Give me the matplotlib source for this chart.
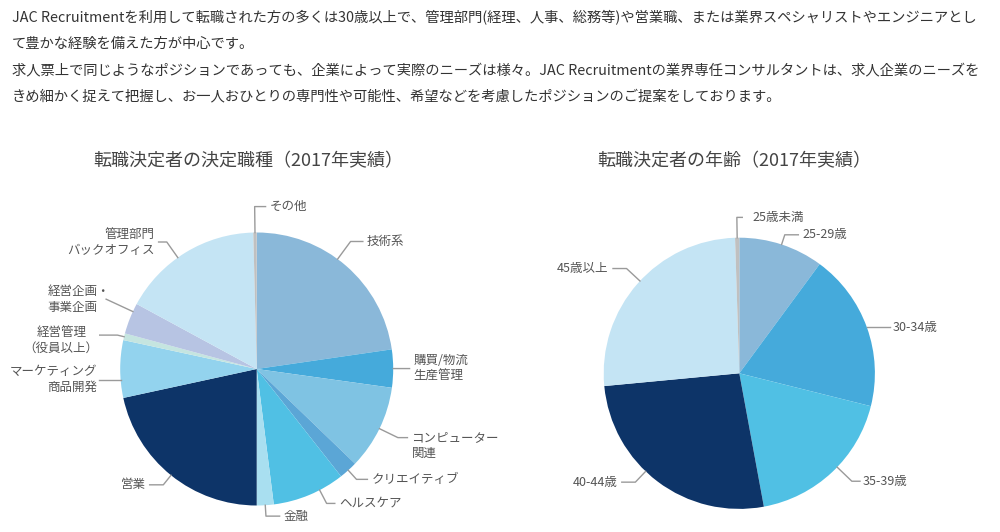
import numpy as np
import matplotlib
matplotlib.use("Agg")
import matplotlib.pyplot as plt

plt.rcParams['font.family'] = ['Noto Sans CJK JP', 'DejaVu Sans']

W, H = 1000, 532

# 決定職種 (2017)
job_labels = ["技術系", "購買/物流\n生産管理", "コンピューター\n関連", "クリエイティブ",
              "ヘルスケア", "金融", "営業", "マーケティング\n商品開発",
              "経営管理\n（役員以上）", "経営企画・\n事業企画", "管理部門\nバックオフィス", "その他"]
job_values = [22.7, 4.5, 10.0, 2.2, 8.6, 2.0, 21.6, 6.8, 0.8, 3.7, 16.7, 0.4]
job_colors = ["#8ab8d9", "#45aadb", "#7fc3e3", "#5ba6d6", "#50c0e4", "#a9dff0",
              "#0d3468", "#93d3ee", "#c5e5e0", "#b7c4e3", "#c4e4f4", "#c0c0c0"]

# 年齢 (2017)
age_labels = ["25-29歳", "30-34歳", "35-39歳", "40-44歳", "45歳以上", "25歳未満"]
age_values = [10.1, 18.8, 18.2, 26.4, 26.0, 0.5]
age_colors = ["#8ab8d9", "#45aadb", "#50c0e4", "#0d3468", "#c4e4f4", "#c0c0c0"]

# leader layout: angle shift (deg), elbow radius, horizontal length, side,
# text dy (px), gap (px), multialign
job_leaders = [(-4.5, 1.16, 0.09, 1, 0, 4, 'left'),
               (0, 1.02, 0.10, 1, 0, 4, 'left'),
               (0, 1.15, 0.07, 1, -8, 4, 'left'),
               (0, 1.09, 0.08, 1, 0, 4, 'left'),
               (-4.8, 1.11, 0.06, 1, 0, 4, 'left'),
               (0, 1.08, 0.10, 1, 0, 4, 'left'),
               (0, 1.09, 0.10, -1, 0, 4, 'left'),
               (-4.5, 1.00, 0.16, -1, 0, 2, 'right'),
               (0, 1.05, 0.13, -1, -5, 1, 'center'),
               (3.1, 1.216, 0.0, -1, 0, -4, 'left'),
               (-3.8, 1.14, 0.06, -1, 0, 4, 'right'),
               (0, 1.19, 0.08, 1, 0, 4, 'left')]
age_leaders = [(0, 1.075, 0.10, 1, 0, 4, 'left'),
               (0, 1.0, 0.17, 1, 0, 3, 'left'),
               (-3, 1.15, 0.06, 1, 0, 3, 'left'),
               (6.6, 1.11, 0.10, -1, 0, 4, 'left'),
               (1.5, 1.135, 0.10, -1, 0, 5, 'left'),
               (0, 1.15, 0.04, 1, 0, 10, 'left')]

paragraph = [
    "JAC Recruitmentを利用して転職された方の多くは30歳以上で、管理部門(経理、人事、総務等)や営業職、または業界スペシャリストやエンジニアとし",
    "て豊かな経験を備えた方が中心です。",
    "求人票上で同じようなポジションであっても、企業によって実際のニーズは様々。JAC Recruitmentの業界専任コンサルタントは、求人企業のニーズを",
    "きめ細かく捉えて把握し、お一人おひとりの専門性や可能性、希望などを考慮したポジションのご提案をしております。",
]


def draw_pie(fig, cx, cy, r, values, colors, labels, leaders, title, title_x):
    ax = fig.add_axes([(cx - r) / W, 1 - (cy + r) / H, 2 * r / W, 2 * r / H])
    ax.pie(values, colors=colors, startangle=90, counterclock=False, radius=1,
           wedgeprops=dict(linewidth=0))
    ax.set_xlim(-1, 1)
    ax.set_ylim(-1, 1)
    ax.axis('off')

    total = float(sum(values))
    start = 0.0
    for v, lab, (da, k, h, side, dy, gap, malign) in zip(values, labels, leaders):
        mid = np.deg2rad((start + v / 2) / total * 360 + da)
        start += v
        ex, ey = np.sin(mid), np.cos(mid)
        bx, by = k * ex, k * ey
        tx = bx + side * h
        ax.plot([ex, bx, tx], [ey, by, by], color="#9a9a9a", lw=1, clip_on=False)
        ax.annotate(lab, xy=(tx, by), xytext=(side * gap * 0.72, dy * 0.72),
                    textcoords='offset points', ha='left' if side > 0 else 'right',
                    va='center', fontsize=9, color="#555555", linespacing=1.3,
                    multialignment=malign, annotation_clip=False)

    fig.text(title_x / W, 1 - 161 / H, title, ha='center', va='center',
             fontsize=13, color="#444444")


fig = plt.figure(figsize=(W / 100, H / 100), dpi=100)
fig.patch.set_facecolor("white")

for i, line in enumerate(paragraph):
    fig.text(12 / W, 1 - (18 + i * 26) / H, line, ha='left', va='center',
             fontsize=10.3, color="#333333")

draw_pie(fig, 256.7, 369, 136.5, job_values, job_colors, job_labels, job_leaders,
         "転職決定者の決定職種（2017年実績）", 248)
draw_pie(fig, 739.3, 373.3, 135.6, age_values, age_colors, age_labels, age_leaders,
         "転職決定者の年齢（2017年実績）", 734)

fig.savefig("out.png", dpi=100)
